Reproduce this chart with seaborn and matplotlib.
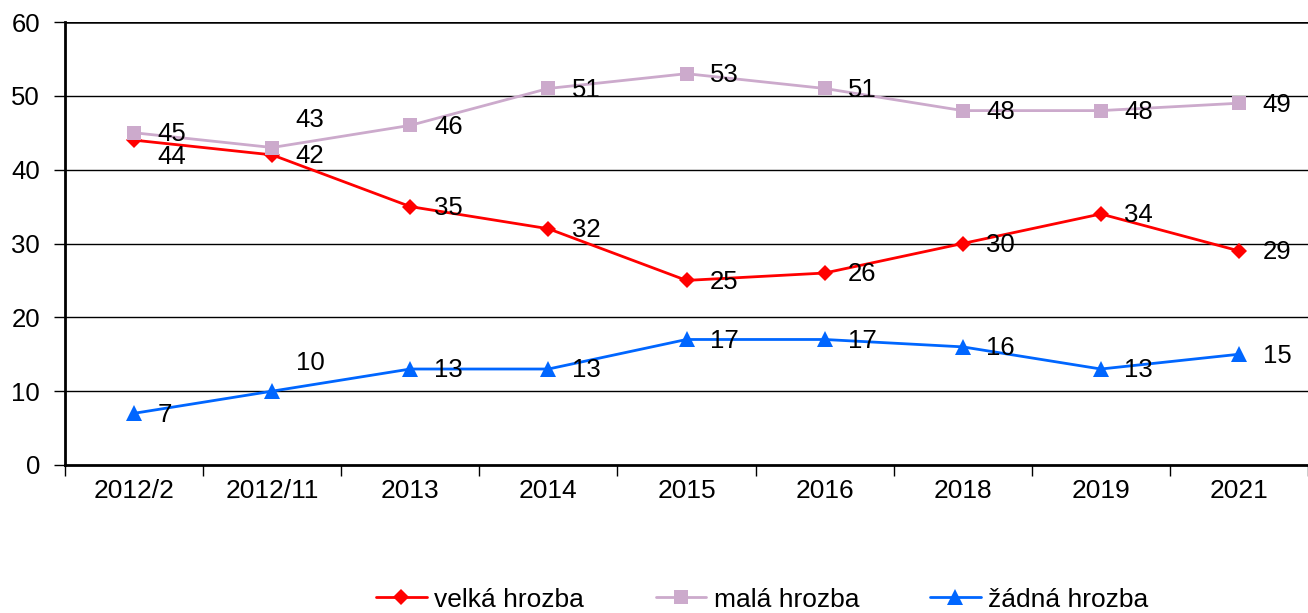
import matplotlib
matplotlib.use("Agg")
import matplotlib.pyplot as plt
import seaborn as sns
import pandas as pd
from matplotlib.lines import Line2D
from matplotlib.ticker import FixedLocator

categories = ["2012/2", "2012/11", "2013", "2014", "2015", "2016", "2018", "2019", "2021"]
velka = [44, 42, 35, 32, 25, 26, 30, 34, 29]
mala = [45, 43, 46, 51, 53, 51, 48, 48, 49]
zadna = [7, 10, 13, 13, 17, 17, 16, 13, 15]
series_names = ["velká hrozba", "malá hrozba", "žádná hrozba"]

styles = {
    "velká hrozba": dict(color="#FF0000", marker="D", ms=8),
    "malá hrozba": dict(color="#CCAACC", marker="s", ms=10),
    "žádná hrozba": dict(color="#0066FF", marker="^", ms=11),
}
# label offsets in points (dx, dy); default slightly right and below
label_offsets = {
    ("velká hrozba", 0): (17, -12),
    ("malá hrozba", 1): (17, 20),
    ("žádná hrozba", 1): (17, 20),
}

sns.set_theme(style="white")
plt.rcParams['font.family'] = ['Liberation Sans', 'DejaVu Sans']

fig = plt.figure(figsize=(13.08, 6.13), dpi=100)
ax = fig.add_axes([65/1308, (613-465)/613, 1 - 65/1308, (465-22)/613])

df = pd.DataFrame({"kat": categories * 3,
                   "val": velka + mala + zadna,
                   "serie": [s for s in series_names for _ in categories]})
df["x"] = [i for _ in series_names for i in range(len(categories))]

handles = []
for name in series_names:
    st = styles[name]
    sub = df[df["serie"] == name]
    sns.lineplot(data=sub, x="x", y="val", ax=ax, color=st["color"], lw=2,
                 marker=st["marker"], markersize=st["ms"], markeredgewidth=0,
                 markerfacecolor=st["color"], zorder=3)
    for xi, v in zip(sub["x"], sub["val"]):
        dx, dy = label_offsets.get((name, xi), (17, -1))
        ax.annotate(str(v), (xi, v), xytext=(dx, dy), textcoords="offset points",
                    fontsize=18.5, color="black", ha="left", va="center", zorder=4)
    handles.append(Line2D([0], [0], color=st["color"], lw=2, marker=st["marker"],
                          markersize=st["ms"], markeredgewidth=0))

ax.set_xlim(-0.5, len(categories) - 0.5)
ax.set_ylim(0, 60)
ax.set_yticks(range(0, 61, 10))
ax.set_xticks(range(len(categories)))
ax.set_xticklabels(categories)
ax.xaxis.set_minor_locator(FixedLocator([i - 0.5 for i in range(len(categories) + 1)]))
ax.tick_params(axis="x", which="major", length=0, pad=10, labelsize=19, labelcolor="black")
ax.tick_params(axis="x", which="minor", length=8, width=1, direction="out", bottom=True, color="black")
ax.tick_params(axis="y", which="major", length=8, width=1, direction="out", left=True,
               labelsize=18.5, labelcolor="black", color="black", pad=10)
ax.set_xlabel("")
ax.set_ylabel("")
ax.grid(False)
for y in range(10, 61, 10):
    ax.axhline(y, color="black", lw=1.8 if y == 60 else 1, zorder=1)

for s in ["right", "top"]:
    ax.spines[s].set_visible(False)
for s in ["left", "bottom"]:
    ax.spines[s].set_color("black")
    ax.spines[s].set_linewidth(2)

fig.legend(handles, series_names, loc="center", bbox_to_anchor=(0.583, 0.022), ncol=3,
           frameon=False, fontsize=19, handlelength=1.9, columnspacing=2.7, handletextpad=0.3,
           labelcolor="black")

fig.savefig("out.png", dpi=100)
